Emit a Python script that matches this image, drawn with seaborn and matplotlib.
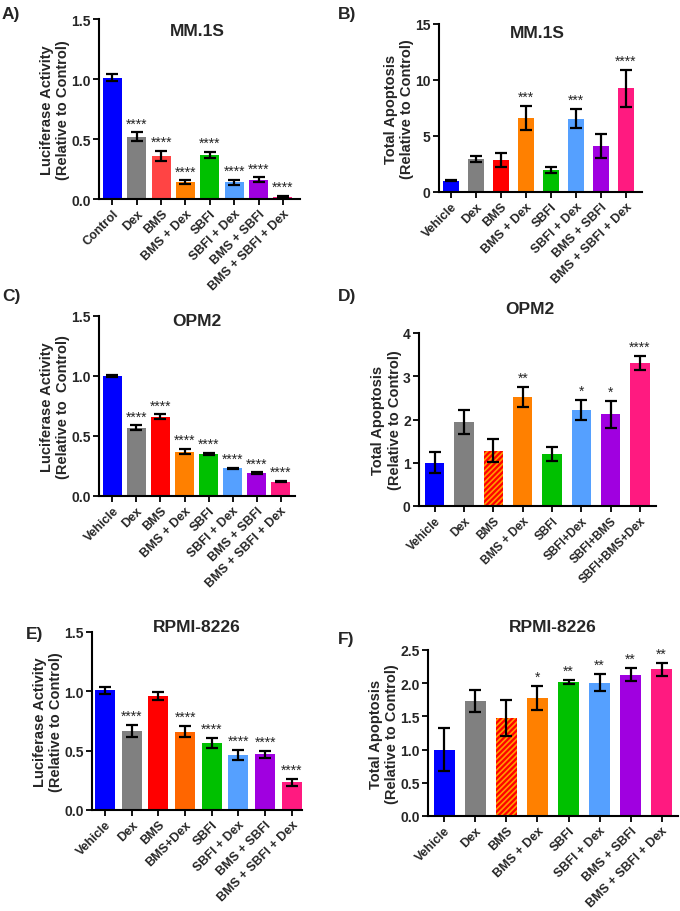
import matplotlib
matplotlib.use("Agg")
import matplotlib.pyplot as plt
import seaborn as sns
import numpy as np

# ---- data ----
lab_a = ["Control", "Dex", "BMS", "BMS + Dex", "SBFI", "SBFI + Dex", "BMS + SBFI", "BMS + SBFI + Dex"]
val_a = [1.01, 0.52, 0.36, 0.14, 0.37, 0.14, 0.16, 0.02]
err_a = [0.03, 0.035, 0.04, 0.015, 0.025, 0.02, 0.02, 0.005]
star_a = ["", "****", "****", "****", "****", "****", "****", "****"]

lab_b = ["Vehicle", "Dex", "BMS", "BMS + Dex", "SBFI", "SBFI + Dex", "BMS + SBFI", "BMS + SBFI + Dex"]
val_b = [1.0, 2.95, 2.85, 6.6, 1.95, 6.55, 4.1, 9.25]
err_b = [0.05, 0.28, 0.62, 1.1, 0.25, 0.85, 1.05, 1.65]
star_b = ["", "", "", "***", "", "***", "", "****"]

lab_c = ["Vehicle", "Dex", "BMS", "BMS + Dex", "SBFI", "SBFI + Dex", "BMS + SBFI", "BMS + SBFI + Dex"]
val_c = [1.0, 0.57, 0.66, 0.37, 0.35, 0.23, 0.19, 0.12]
err_c = [0.012, 0.018, 0.02, 0.02, 0.012, 0.006, 0.006, 0.004]
star_c = ["", "****", "****", "****", "****", "****", "****", "****"]

lab_d = ["Vehicle", "Dex", "BMS", "BMS + Dex", "SBFI", "SBFI+Dex", "SBFI+BMS", "SBFI+BMS+Dex"]
val_d = [1.0, 1.95, 1.28, 2.52, 1.2, 2.23, 2.12, 3.3]
err_d = [0.24, 0.28, 0.27, 0.23, 0.16, 0.23, 0.31, 0.16]
star_d = ["", "", "", "**", "", "*", "*", "****"]

lab_e = ["Vehicle", "Dex", "BMS", "BMS+Dex", "SBFI", "SBFI + Dex", "BMS + SBFI", "BMS + SBFI + Dex"]
val_e = [1.01, 0.665, 0.96, 0.66, 0.565, 0.465, 0.47, 0.235]
err_e = [0.03, 0.05, 0.035, 0.045, 0.045, 0.04, 0.03, 0.03]
star_e = ["", "****", "", "****", "****", "****", "****", "****"]

lab_f = ["Vehicle", "Dex", "BMS", "BMS + Dex", "SBFI", "SBFI + Dex", "BMS + SBFI", "BMS + SBFI + Dex"]
val_f = [1.0, 1.73, 1.47, 1.78, 2.02, 2.01, 2.13, 2.21]
err_f = [0.32, 0.17, 0.27, 0.18, 0.03, 0.13, 0.1, 0.1]
star_f = ["", "", "", "*", "**", "**", "**", "**"]

pal = ["#0000FF", "#808080", "#FF0000", "#FF8000", "#00C000", "#55A0FF", "#A000E0", "#FF1A80"]
pal_a = ["#0000FF", "#808080", "#FF4444", "#FF8000", "#00C000", "#55A0FF", "#A000E0", "#FF1A80"]
pal_e = ["#0000FF", "#808080", "#FF0000", "#FF6600", "#00C000", "#55A0FF", "#A000E0", "#FF1A80"]

sns.set_style("ticks")
plt.rcParams["font.family"] = ["Liberation Sans", "DejaVu Sans"]
plt.rcParams["hatch.linewidth"] = 1.2

fig = plt.figure(figsize=(6.8, 9.12), dpi=100)
W, H = 680.0, 912.0


def panel(box, labels, vals, errs, stars, ymax, ystep, fmt, ylabel, xlim, width,
          colors, hatched=False, xfs=9):
    l, r, t, b = box
    ax = fig.add_axes([l / W, 1 - b / H, (r - l) / W, (b - t) / H])
    sns.barplot(x=labels, y=vals, hue=labels, palette=colors, legend=False,
                ax=ax, width=width, linewidth=0, saturation=1)
    x = np.arange(len(labels))
    ax.errorbar(x, vals, yerr=errs, fmt="none", ecolor="black", elinewidth=1.6,
                capsize=4.5, capthick=1.6, zorder=5)
    if hatched:
        p = ax.patches[2]
        p.set_edgecolor("#FF9A00")
        p.set_hatch("//////")
        p.set_linewidth(0)
    for xi, v, e, s in zip(x, vals, errs, stars):
        if s:
            ax.annotate(s, (xi, v + e), xytext=(0, 1.5), textcoords="offset points",
                        ha="center", va="bottom", fontsize=10)
    ticks = np.arange(0, ymax + ystep / 2, ystep)
    ax.set_ylim(0, ymax)
    ax.set_yticks(ticks)
    ax.set_yticklabels([fmt.format(t) for t in ticks], fontweight="bold", fontsize=10)
    ax.set_xlim(*xlim)
    ax.set_xticks(x)
    ax.set_xticklabels(labels, rotation=45, ha="right", rotation_mode="anchor",
                       fontweight="bold", fontsize=xfs)
    ax.set_ylabel(ylabel, fontweight="bold", fontsize=10.5, labelpad=1)
    ax.set_xlabel("")
    for sp in ["top", "right"]:
        ax.spines[sp].set_visible(False)
    for sp in ["left", "bottom"]:
        ax.spines[sp].set_linewidth(1.5)
        ax.spines[sp].set_color("black")
    ax.tick_params(width=1.3, length=4, color="black", pad=2)
    return ax


lum = "Luciferase Activity\n(Relative to Control)"
apo = "Total Apoptosis\n(Relative to Control)"

panel((99, 300, 20, 200), lab_a, val_a, err_a, star_a, 1.5, 0.5, "{:.1f}", lum,
      (-0.55, 7.7), 0.78, pal_a)
panel((439, 642, 25, 193), lab_b, val_b, err_b, star_b, 15, 5, "{:.0f}", apo,
      (-0.48, 7.64), 0.67, pal)
panel((99, 295, 317, 497), lab_c, val_c, err_c, star_c, 1.5, 0.5, "{:.1f}",
      "Luciferase Activity\n(Relative to  Control)", (-0.56, 7.6), 0.76, pal)
panel((419, 656, 334, 507), lab_d, val_d, err_d, star_d, 4, 1, "{:.0f}", apo,
      (-0.54, 7.55), 0.66, pal, hatched=True, xfs=8.5)
panel((92, 302, 633, 811), lab_e, val_e, err_e, star_e, 1.5, 0.5, "{:.1f}", lum,
      (-0.49, 7.38), 0.75, pal_e)
panel((428, 678, 651, 817), lab_f, val_f, err_f, star_f, 2.5, 0.5, "{:.1f}", apo,
      (-0.53, 7.53), 0.68, pal, hatched=True)

# titles and panel letters
titles = [("MM.1S", 197, 32), ("MM.1S", 537, 33), ("OPM2", 197, 322),
          ("OPM2", 530, 310), ("RPMI-8226", 197, 628), ("RPMI-8226", 553, 627)]
for s, tx, ty in titles:
    fig.text(tx / W, 1 - ty / H, s, ha="center", va="center", fontsize=12.5,
             fontweight="bold")

letters = [("A)", 2, 15), ("B)", 338, 15), ("C)", 2, 296), ("D)", 338, 296),
           ("E)", 26, 635), ("F)", 338, 640)]
for s, tx, ty in letters:
    fig.text(tx / W, 1 - ty / H, s, ha="left", va="center", fontsize=12.5,
             fontweight="bold")

fig.savefig("out.png", dpi=100, facecolor="white")
